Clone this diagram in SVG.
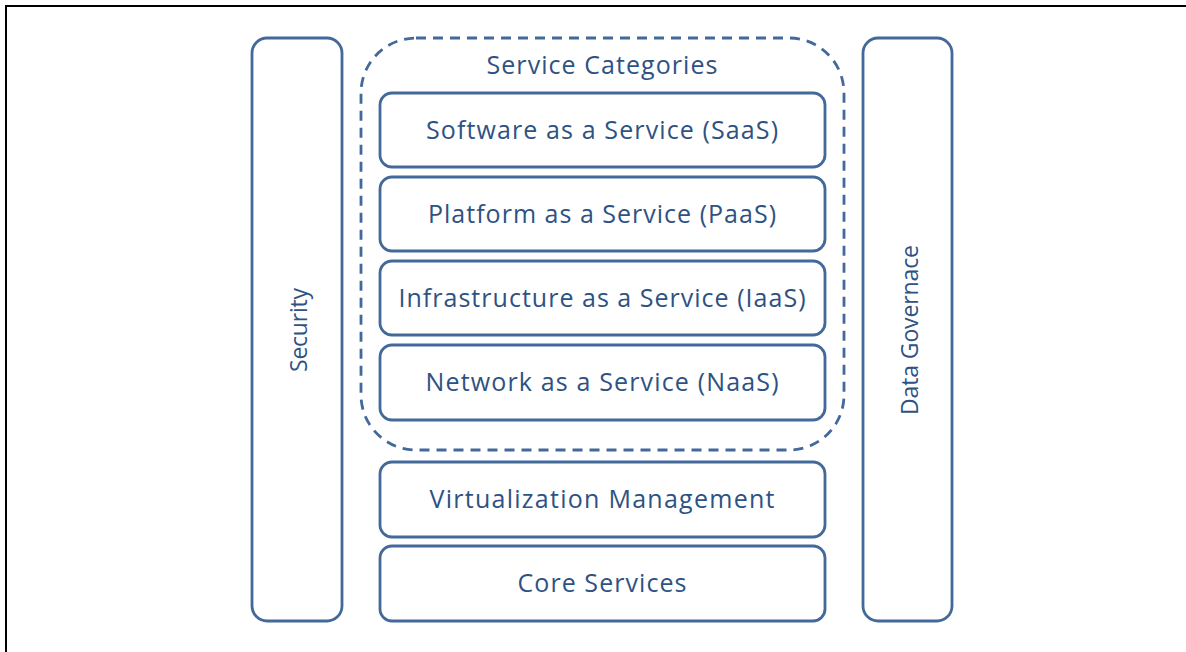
<svg xmlns="http://www.w3.org/2000/svg" width="1186" height="652" viewBox="0 0 1186 652">
<style>
.box{fill:#fff;stroke:#43699b;stroke-width:2.8}
.dash{fill:none;stroke:#43699b;stroke-width:2.8;stroke-dasharray:10 7}
.t{font-family:"Open Sans","Liberation Sans",sans-serif;font-size:25px;fill:#2e5283;text-anchor:middle}
.v{font-size:23px}
</style>
<rect width="1186" height="652" fill="#fff"/>
<path d="M6 652 V6 H1186" fill="none" stroke="#000" stroke-width="2"/>
<g id="security"><rect class="box" x="252" y="38" width="90" height="583" rx="15"/><text class="t v" transform="translate(307 330) rotate(-90)" textLength="84" lengthAdjust="spacing">Security</text></g>
<g id="data-governance"><rect class="box" x="863" y="38" width="89" height="583" rx="15"/><text class="t v" transform="translate(918 330) rotate(-90)" textLength="170" lengthAdjust="spacing">Data Governace</text></g>
<g id="service-categories"><rect class="dash" x="361" y="38" width="483" height="412" rx="55"/><text class="t" x="602" y="74" textLength="231" lengthAdjust="spacing">Service Categories</text></g>
<g id="saas"><rect class="box" x="380" y="93" width="445" height="74" rx="12"/><text class="t" x="602" y="139" textLength="352" lengthAdjust="spacing">Software as a Service (SaaS)</text></g>
<g id="paas"><rect class="box" x="380" y="177" width="445" height="74" rx="12"/><text class="t" x="602" y="223" textLength="348" lengthAdjust="spacing">Platform as a Service (PaaS)</text></g>
<g id="iaas"><rect class="box" x="380" y="261" width="445" height="74" rx="12"/><text class="t" x="602" y="307" textLength="407" lengthAdjust="spacing">Infrastructure as a Service (IaaS)</text></g>
<g id="naas"><rect class="box" x="380" y="345" width="445" height="75" rx="12"/><text class="t" x="602" y="391" textLength="353" lengthAdjust="spacing">Network as a Service (NaaS)</text></g>
<g id="virtualization"><rect class="box" x="380" y="462" width="445" height="75" rx="12"/><text class="t" x="602" y="508" textLength="345" lengthAdjust="spacing">Virtualization Management</text></g>
<g id="core"><rect class="box" x="380" y="546" width="445" height="75" rx="12"/><text class="t" x="602" y="592" textLength="169" lengthAdjust="spacing">Core Services</text></g>
<g id="connectors"/>
</svg>
